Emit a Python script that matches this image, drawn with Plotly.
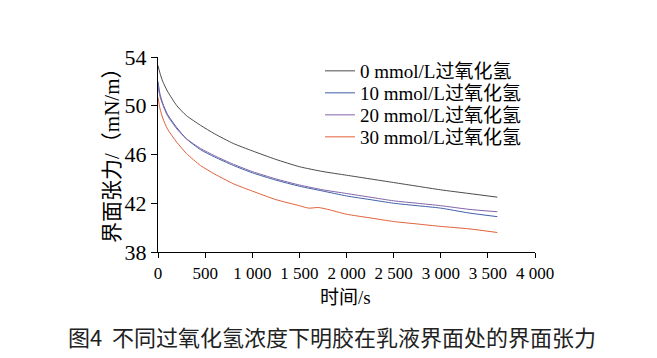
import plotly.graph_objects as go

# time points (s)
t_common = [0, 20, 50, 100, 200, 300, 450, 600, 800, 1000, 1250, 1500, 1750, 2000, 2250, 2500, 2750, 3000, 3300, 3600]
y_0 = [53.3, 52.7, 52.0, 51.2, 50.0, 49.2, 48.4, 47.7, 46.9, 46.3, 45.6, 45.0, 44.6, 44.3, 44.0, 43.7, 43.4, 43.1, 42.8, 42.5]
y_10 = [52.0, 51.0, 50.2, 49.3, 48.2, 47.3, 46.4, 45.8, 45.1, 44.5, 43.9, 43.4, 43.0, 42.6, 42.3, 42.0, 41.8, 41.6, 41.2, 40.9]
y_20 = [51.6, 50.8, 50.1, 49.2, 48.1, 47.3, 46.5, 45.9, 45.2, 44.6, 44.0, 43.5, 43.1, 42.8, 42.5, 42.2, 42.0, 41.8, 41.5, 41.3]
t_30 = [0, 20, 50, 100, 200, 300, 450, 600, 800, 1000, 1250, 1500, 1600, 1700, 1800, 2000, 2250, 2500, 2750, 3000, 3300, 3600]
y_30 = [50.7, 49.8, 49.0, 48.1, 47.0, 46.1, 45.1, 44.4, 43.6, 43.0, 42.3, 41.8, 41.6, 41.65, 41.5, 41.1, 40.8, 40.5, 40.3, 40.1, 39.9, 39.6]

names = ["0 mmol/L过氧化氢", "10 mmol/L过氧化氢", "20 mmol/L过氧化氢", "30 mmol/L过氧化氢"]
colors = ["#4a4a4a", "#3f5fa8", "#8064a8", "#e0603a"]

x_ticks = [0, 500, 1000, 1500, 2000, 2500, 3000, 3500, 4000]
x_ticktext = ["0", "500", "1 000", "1 500", "2 000", "2 500", "3 000", "3 500", "4 000"]
y_ticks = [38, 42, 46, 50, 54]

FONT = "Liberation Serif, Times New Roman, Noto Sans CJK SC, serif"
CJK = "Noto Sans CJK SC, sans-serif"

# page has an 8px body margin; work in page pixel coords
OFF = 8
PL, PR, PT, PB = 158, 535, 57, 252   # plot area in page pixels
W, H = 657 - OFF, 358 - OFF
PW, PH = PR - PL, PB - PT


def px_x(x):
    return (x - PL) / PW


def px_y(y):
    return (PB - y) / PH


fig = go.Figure()
series = [(t_common, y_0), (t_common, y_10), (t_common, y_20), (t_30, y_30)]
legend_ids = ["legend", "legend2", "legend3", "legend4"]
legend_rows = [71, 93, 115, 137]
for (tx, ty), n, c, lid in zip(series, names, colors, legend_ids):
    fig.add_trace(go.Scatter(x=tx, y=ty, mode="lines", name=n, legend=lid,
                             line=dict(color=c, width=1, shape="spline", smoothing=0.6)))

layout_legends = {}
for lid, row in zip(legend_ids, legend_rows):
    layout_legends[lid] = dict(x=px_x(320), y=px_y(row), xanchor="left", yanchor="middle",
                               bgcolor="rgba(0,0,0,0)", font=dict(size=19, family=FONT))

fig.update_layout(
    width=W, height=H,
    margin=dict(l=PL - OFF, r=W - (PR - OFF), t=PT - OFF, b=H - (PB - OFF)),
    paper_bgcolor="white", plot_bgcolor="white",
    font=dict(family=FONT, size=18, color="black"),
    showlegend=True,
    **layout_legends,
    xaxis=dict(range=[0, 4000], tickvals=x_ticks, ticktext=x_ticktext, automargin=False,
               showline=True, linecolor="black", linewidth=1.2,
               ticks="outside", ticklen=5, tickcolor="black", showgrid=False, zeroline=False,
               tickfont=dict(size=17)),
    yaxis=dict(range=[38, 54], tickvals=y_ticks, automargin=False,
               showline=True, linecolor="black", linewidth=1.2,
               ticks="outside", ticklen=6, tickcolor="black", showgrid=False, zeroline=False,
               tickfont=dict(size=22)),
    annotations=[
        dict(text="界面张力/（mN/m）", xref="paper", yref="paper",
             x=px_x(112), y=px_y(150), showarrow=False, textangle=-90,
             font=dict(size=21, family=FONT), xanchor="center", yanchor="middle"),
        dict(text="时间/s", xref="paper", yref="paper",
             x=px_x(345), y=px_y(297), showarrow=False,
             font=dict(size=19, family=FONT), xanchor="center", yanchor="middle"),
        dict(text="图4  不同过氧化氢浓度下明胶在乳液界面处的界面张力", xref="paper", yref="paper",
             x=px_x(332), y=px_y(336), showarrow=False,
             font=dict(size=22, family=CJK, color="#222"), xanchor="center", yanchor="middle"),
    ],
)

fig.write_html("out.html")
